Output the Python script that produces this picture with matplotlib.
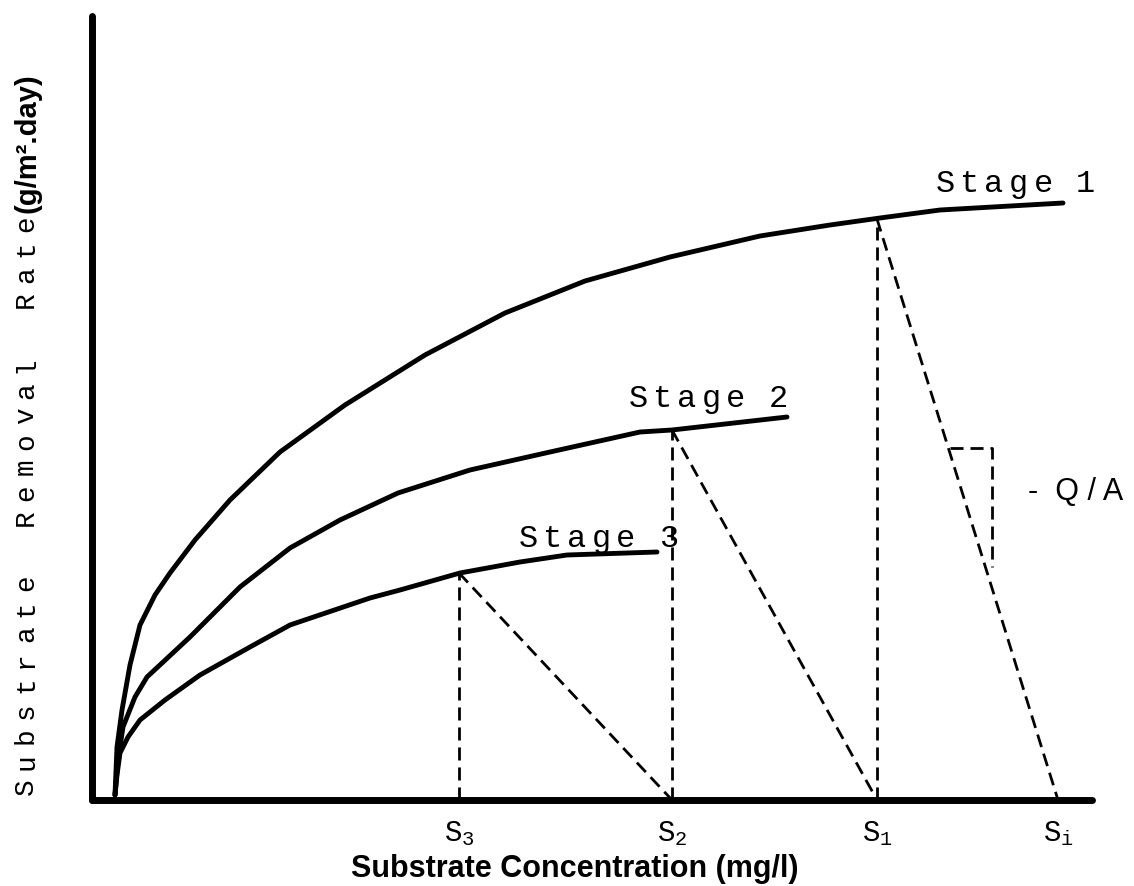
import matplotlib
matplotlib.use('Agg')
from matplotlib import pyplot as plt

plt.rcParams['mathtext.fontset'] = 'custom'
plt.rcParams['mathtext.rm'] = 'Liberation Mono'

# curves (concentration, removal rate) in arbitrary units
stage1_x = [0.23, 0.25, 0.30, 0.38, 0.48, 0.63, 0.78, 1.03, 1.38, 1.88, 2.53, 3.33,
            4.13, 4.93, 5.78, 6.68, 7.38, 7.88, 8.48, 9.71]
stage1_y = [0.05, 0.53, 0.90, 1.35, 1.75, 2.05, 2.27, 2.60, 3.00, 3.48, 3.95, 4.45,
            4.87, 5.19, 5.43, 5.64, 5.75, 5.82, 5.90, 5.97]
stage2_x = [0.23, 0.26, 0.31, 0.43, 0.55, 0.98, 1.48, 1.98, 2.48, 3.06, 3.78, 4.58,
            5.48, 5.80, 6.95]
stage2_y = [0.05, 0.40, 0.73, 1.03, 1.23, 1.63, 2.13, 2.52, 2.80, 3.07, 3.30, 3.48,
            3.68, 3.70, 3.83]
stage3_x = [0.23, 0.25, 0.28, 0.36, 0.48, 0.73, 1.08, 1.58, 1.98, 2.78, 3.08, 3.68,
            4.28, 4.75, 5.65]
stage3_y = [0.05, 0.25, 0.47, 0.63, 0.80, 1.00, 1.25, 1.53, 1.75, 2.02, 2.10, 2.27,
            2.38, 2.45, 2.48]

# concentrations leaving each stage and the rate at each operating point
s_names = ['S_3', 'S_2', 'S_1', 'S_i']
s_vals = [3.67, 5.80, 7.85, 9.66]
op_rates = [2.27, 3.70, 5.81]

# slope marker on the stage 1 line
slope_x = [8.58, 9.00]
slope_y = [3.52, 2.33]

fig = plt.figure(figsize=(11.34, 8.86), dpi=100)
ax = fig.add_axes([92 / 1134, 86 / 886, 1000 / 1134, 784 / 886])
ax.set_xlim(0, 10.0)
ax.set_ylim(0, 7.84)

for sx, sy in [(stage1_x, stage1_y), (stage2_x, stage2_y), (stage3_x, stage3_y)]:
    ax.plot(sx, sy, color='black', lw=3.5, solid_capstyle='round')

dash = dict(color='black', lw=2.0, dashes=(4.7, 2.5))
for i, r in enumerate(op_rates):
    ax.plot([s_vals[i], s_vals[i]], [0, r], **dash)
    ax.plot([s_vals[i], s_vals[i + 1]], [r, 0], **dash)
ax.plot([slope_x[0], slope_x[1], slope_x[1]], [slope_y[0], slope_y[0], slope_y[1]], **dash)

for side in ['top', 'right']:
    ax.spines[side].set_visible(False)
for side in ['left', 'bottom']:
    ax.spines[side].set_linewidth(5)
    ax.spines[side].set_capstyle('round')

ax.set_yticks([])
ax.set_xticks(s_vals)
ax.set_xticklabels([r'$\mathrm{%s}_{\mathrm{%s}}$' % (n[0], n[2]) for n in s_names],
                   fontsize=21)
ax.tick_params(axis='x', length=0, pad=14)

mono = dict(family='Liberation Mono', color='black')


def spaced(x0, y0, text, pitch, gap, vertical=False, size=18):
    pos = 0.0
    for ch in text:
        if ch == ' ':
            pos += gap
            continue
        if vertical:
            ax.text(x0, y0 + pos, ch, rotation=90, rotation_mode='anchor',
                    ha='center', va='baseline', fontsize=size, clip_on=False, **mono)
        else:
            ax.text(x0 + pos, y0, ch, ha='center', va='baseline',
                    fontsize=size, clip_on=False, **mono)
        pos += pitch


spaced(8.53, 6.08, 'Stage 1', 0.245, 0.18, size=23)
spaced(5.46, 3.93, 'Stage 2', 0.245, 0.18, size=23)
spaced(4.36, 2.53, 'Stage 3', 0.245, 0.18, size=23)

spaced(-0.59, 0.13, 'Substrate Removal Rate', 0.255, 0.395, vertical=True, size=20)
ax.text(-0.57, 5.87, '(g/m².day)', rotation=90, rotation_mode='anchor',
        ha='left', va='baseline', fontsize=21, fontweight='bold',
        family='Liberation Sans', clip_on=False)

ax.text(4.83, -0.77, 'Substrate Concentration (mg/l)', ha='center', va='baseline',
        fontsize=22, fontweight='bold', family='Liberation Sans', clip_on=False)
ax.text(9.36, 3.0, '-  Q / A', ha='left', va='baseline', fontsize=22,
        family='Liberation Sans', clip_on=False)

fig.savefig('out.png', dpi=100)
